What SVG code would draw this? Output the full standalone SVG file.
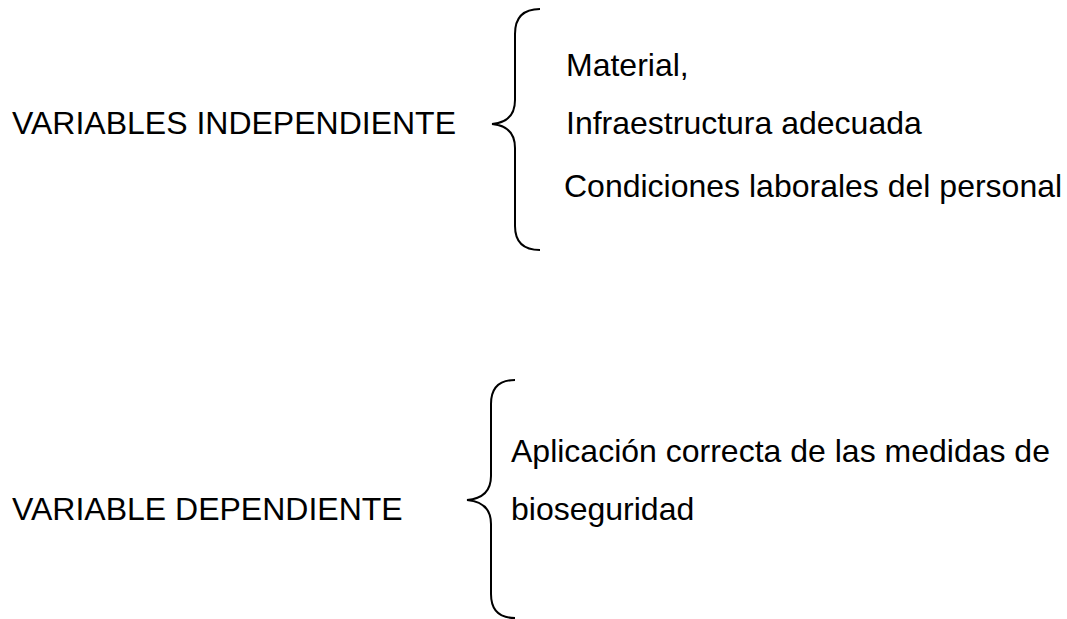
<svg xmlns="http://www.w3.org/2000/svg" width="1067" height="619" viewBox="0 0 1067 619">
<style>
text{font-family:"Liberation Sans",Arial,sans-serif;font-size:32px;fill:#000}
.brace{fill:none;stroke:#000;stroke-width:2}
</style>
<rect width="1067" height="619" fill="#fff"/>
<g id="independiente">
<text x="12" y="134">VARIABLES INDEPENDIENTE</text>
</g>
<g id="items1">
<text x="566" y="76">Material,</text>
<text x="566" y="134">Infraestructura adecuada</text>
<text x="564" y="197">Condiciones laborales del personal</text>
</g>
<g id="dependiente">
<text x="12" y="520">VARIABLE DEPENDIENTE</text>
</g>
<g id="items2">
<text x="511" y="462">Aplicación correcta de las medidas de</text>
<text x="511" y="520">bioseguridad</text>
</g>
<g id="connectors">
<path class="brace" d="M540,9 Q515,9 515,34 L515,100 Q515,122 492,124 Q515,126 515,148 L515,226 Q515,250 540,250"/>
<path class="brace" d="M515,380 Q491,380 491,404 L491,476 Q491,498 467,500 Q491,502 491,524 L491,594 Q491,618 515,618"/>
</g>
</svg>
